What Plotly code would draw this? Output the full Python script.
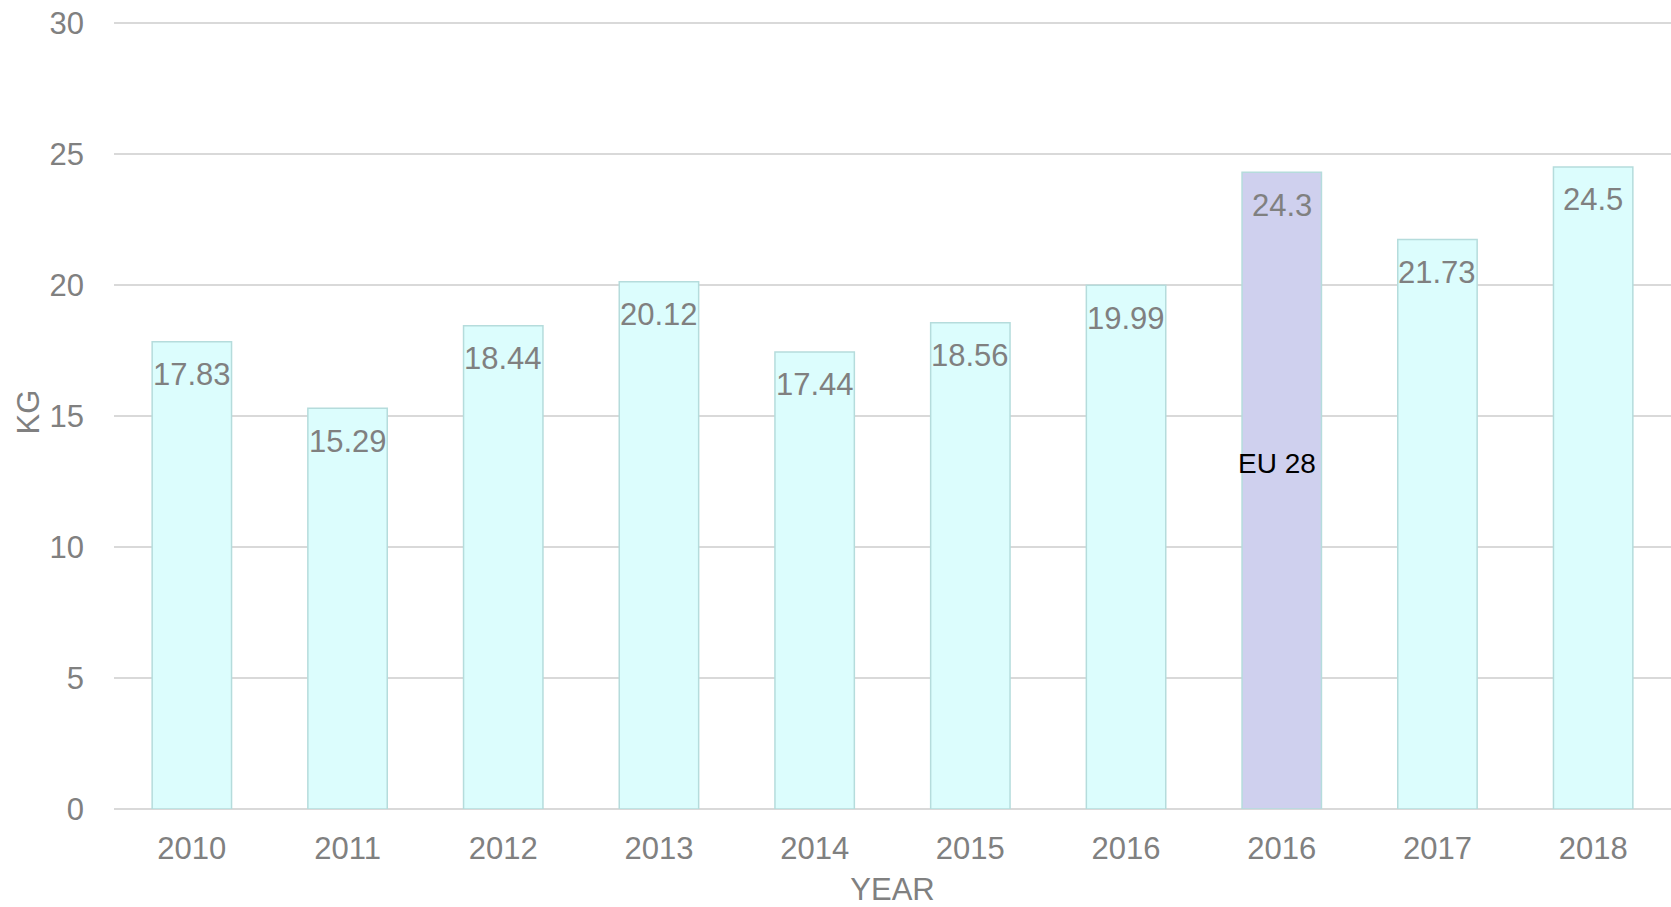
import plotly.graph_objects as go

# Data
categories = ["2010", "2011", "2012", "2013", "2014", "2015", "2016", "2016", "2017", "2018"]
values = [17.83, 15.29, 18.44, 20.12, 17.44, 18.56, 19.99, 24.3, 21.73, 24.5]
bar_colors = ["#dcfdfd"] * 7 + ["#cfd0ee"] + ["#dcfdfd"] * 2
eu_index = 7
eu_label = "EU 28"
eu_label_y = 13.2

positions = list(range(len(categories)))
grey = "#808080"
font_family = "Liberation Sans, Arial, sans-serif"

fig = go.Figure()
fig.add_trace(go.Bar(
    x=positions, y=values,
    marker=dict(color=bar_colors, line=dict(color="#b5dcdc", width=1.5)),
    width=0.51,
    hoverinfo="x+y",
))

for p, v in zip(positions, values):
    fig.add_annotation(x=p, y=v, text=f"{v:g}", showarrow=False,
                       yanchor="middle", yshift=-33,
                       font=dict(size=31, color=grey, family=font_family))

fig.add_annotation(x=positions[eu_index], y=eu_label_y, text=eu_label, showarrow=False,
                   xshift=-5, font=dict(size=28, color="#000000", family=font_family))

fig.update_layout(
    width=1671, height=907,
    margin=dict(l=114, r=0, t=15, b=98),
    paper_bgcolor="white", plot_bgcolor="white",
    showlegend=False,
    font=dict(family=font_family, color=grey, size=31),
    xaxis=dict(
        tickmode="array", tickvals=positions, ticktext=categories,
        range=[-0.5, len(categories) - 0.5],
        showgrid=False, zeroline=False, showline=False,
        ticks="", ticklabelstandoff=18,
        title=dict(text="YEAR", font=dict(size=31, color=grey), standoff=18),
        tickfont=dict(size=31, color=grey),
    ),
    yaxis=dict(
        range=[0, 30.3], tickvals=[0, 5, 10, 15, 20, 25, 30],
        showgrid=True, gridcolor="#d9d9d9", gridwidth=1.5,
        zeroline=True, zerolinecolor="#d9d9d9", zerolinewidth=1.5,
        showline=False, ticks="", ticklabelstandoff=29,
        title=dict(text="KG", font=dict(size=31, color=grey), standoff=0),
        tickfont=dict(size=31, color=grey),
    ),
)

fig.write_html("out.html", config={"displayModeBar": False},
               post_script="document.body.style.margin='0';")
